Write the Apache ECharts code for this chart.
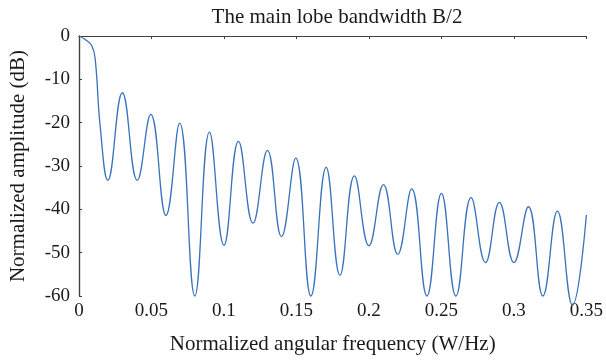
<!DOCTYPE html>
<html>
<head>
<meta charset="utf-8">
<script src="https://cdn.jsdelivr.net/npm/echarts@6/dist/echarts.min.js"></script>
<style>
  html, body { margin: 0; padding: 0; background: #fff; }
  #chart { width: 606px; height: 360px; }
</style>
</head>
<body>
<div id="chart"></div>
<script>
// values (peaks, nulls and a few points on the main lobe)
const freq = [0, 0.0043, 0.0089, 0.0112, 0.0146, 0.0199, 0.0299, 0.0402, 0.0495, 0.060, 0.0694, 0.0799,
  0.090, 0.100, 0.110, 0.120, 0.130, 0.1397, 0.1495, 0.160, 0.1705, 0.180, 0.190, 0.200, 0.210, 0.2199,
  0.2295, 0.240, 0.250, 0.260, 0.2705, 0.2804, 0.290, 0.300, 0.310, 0.320, 0.330, 0.3404, 0.350];
const amplitude = [0, -0.8, -2.3, -5.4, -20.8, -33.3, -13.1, -33.3, -18.1, -41.4, -20.1, -60,
  -22.2, -48.3, -24.3, -43.2, -26.4, -46.3, -28.2, -60, -30.3, -55.2, -32.3, -48.4, -34.3, -50.4,
  -35.3, -60, -36.3, -60, -37.3, -52.3, -38.4, -52.3, -39.4, -60, -40.4, -62.1, -41.3];
const xTicks = [0, 0.05, 0.1, 0.15, 0.2, 0.25, 0.3, 0.35];
const yTicks = [0, -10, -20, -30, -40, -50, -60];

const serif = '"Liberation Serif", "DejaVu Serif", serif';
const axisColor = '#404040';
const textColor = '#1a1a1a';

const chart = echarts.init(document.getElementById('chart'));
chart.setOption({
  animation: false,
  title: {
    text: 'The main lobe bandwidth B/2',
    left: 332,
    top: 2,
    textAlign: 'center',
    textStyle: { fontFamily: serif, fontSize: 21, fontWeight: 'normal', color: textColor }
  },
  grid: { left: 77, right: 18, top: 36, bottom: 64 },
  xAxis: [{
    type: 'value',
    min: 0, max: 0.35, interval: 0.05,
    name: 'Normalized angular frequency (W/Hz)',
    nameLocation: 'middle',
    nameGap: 38,
    nameTextStyle: { fontFamily: serif, fontSize: 21, color: textColor },
    axisLine: { lineStyle: { color: axisColor, width: 1.2 } },
    axisTick: { show: false },
    axisLabel: {
      fontFamily: serif, fontSize: 19, color: textColor, margin: 6,
      formatter: v => xTicks.includes(+v.toFixed(2)) ? String(+v.toFixed(2)) : ''
    },
    splitLine: { show: false }
  }, {
    type: 'value', position: 'top',
    min: 0, max: 0.35, interval: 0.05,
    axisLine: { lineStyle: { color: axisColor, width: 1.2 } },
    axisTick: { inside: true, length: 3, lineStyle: { color: axisColor } },
    axisLabel: { show: false },
    splitLine: { show: false }
  }],
  yAxis: [{
    type: 'value',
    min: -60, max: 0, interval: 10,
    name: 'Normalized amplitude (dB)',
    nameLocation: 'middle',
    nameGap: 50,
    nameTextStyle: { fontFamily: serif, fontSize: 21, color: textColor },
    axisLine: { show: true, lineStyle: { color: axisColor, width: 1.2 } },
    axisTick: { show: true, inside: true, length: 3, lineStyle: { color: axisColor } },
    axisLabel: {
      fontFamily: serif, fontSize: 19, color: textColor, margin: 9,
      formatter: v => yTicks.includes(v) ? String(v) : ''
    },
    splitLine: { show: false }
  }, {
    type: 'value', position: 'right',
    min: -60, max: 0, interval: 10,
    axisLine: { show: true, lineStyle: { color: axisColor, width: 1.2 } },
    axisTick: { show: false },
    axisLabel: { show: false },
    splitLine: { show: false }
  }],
  series: [{
    type: 'line',
    data: freq.map((f, i) => [f, amplitude[i]]),
    smooth: 0.45,
    showSymbol: false,
    clip: false,
    lineStyle: { color: '#3a72bb', width: 1.3 }
  }]
});
</script>
</body>
</html>
